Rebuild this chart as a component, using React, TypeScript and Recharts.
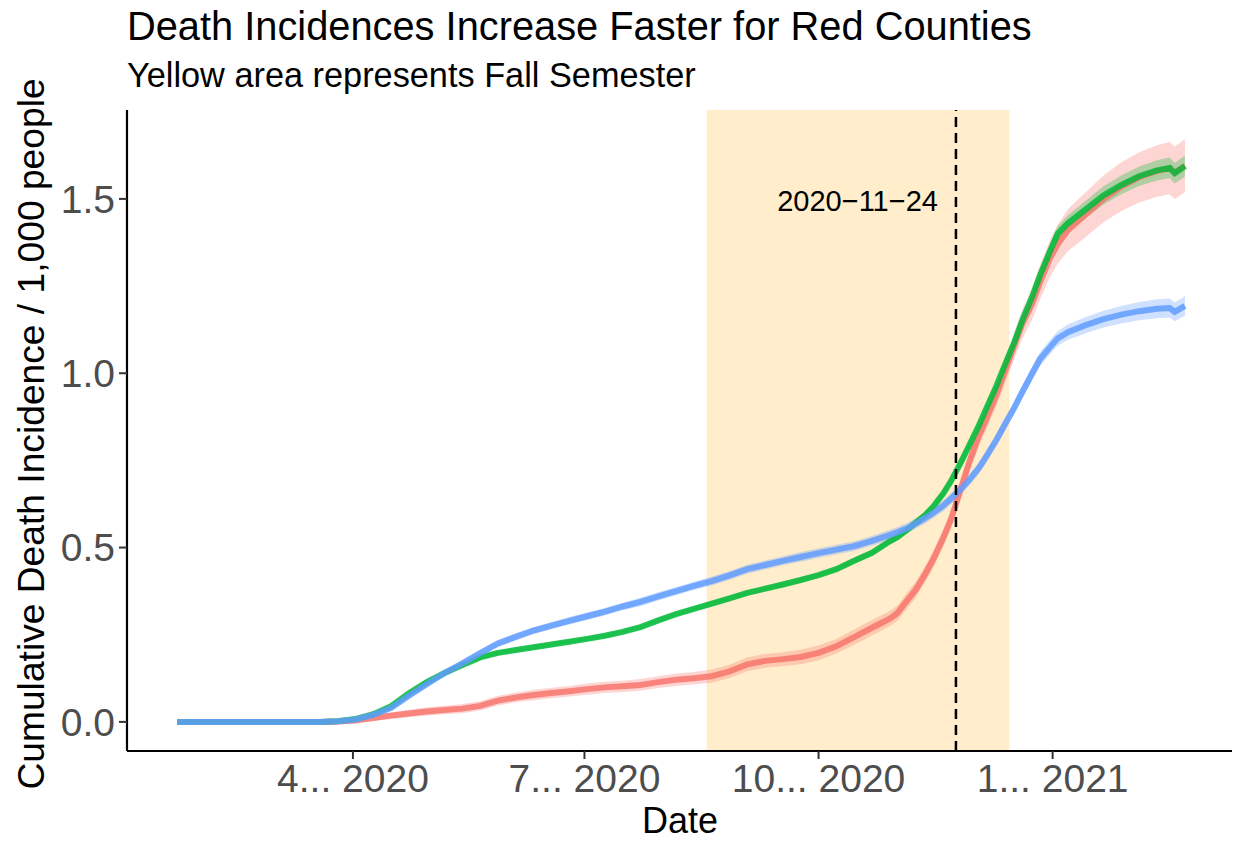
import React from 'react';
import { ComposedChart, Line, Area, XAxis, YAxis, ReferenceArea, ReferenceLine } from 'recharts';

// days since 2020-01-22
const days = [
  1, 8, 15, 22, 29, 36, 43, 50, 57, 64,
  71, 78, 85, 92, 99, 106, 113, 120, 127, 134,
  141, 148, 155, 162, 169, 176, 183, 190, 197, 204,
  211, 218, 225, 232, 239, 246, 253, 260, 267, 274,
  281, 284, 288, 291, 295, 298, 302, 305, 309, 312,
  316, 319, 323, 326, 330, 333, 337, 340, 344, 347,
  351, 358, 365, 372, 379, 386, 391, 393, 397,
];

const red = [
  0, 0, 0, 0, 0, 0, 0, 0, 0, 0.001,
  0.004, 0.011, 0.018, 0.024, 0.030, 0.034, 0.038, 0.046, 0.061, 0.070,
  0.077, 0.083, 0.088, 0.094, 0.099, 0.102, 0.106, 0.114, 0.121, 0.125,
  0.131, 0.145, 0.165, 0.175, 0.180, 0.186, 0.198, 0.217, 0.243, 0.270,
  0.296, 0.312, 0.350, 0.377, 0.425, 0.465, 0.527, 0.580, 0.670, 0.740,
  0.820, 0.870, 0.940, 1.000, 1.080, 1.140, 1.200, 1.260, 1.330, 1.370,
  1.410, 1.455, 1.500, 1.535, 1.562, 1.580, 1.588, 1.575, 1.595,
];

const green = [
  0, 0, 0, 0, 0, 0, 0, 0, 0, 0.002,
  0.008, 0.022, 0.045, 0.082, 0.114, 0.140, 0.163, 0.185, 0.198, 0.206,
  0.214, 0.222, 0.230, 0.238, 0.247, 0.258, 0.272, 0.291, 0.309, 0.324,
  0.339, 0.354, 0.370, 0.382, 0.394, 0.407, 0.421, 0.438, 0.462, 0.485,
  0.518, 0.530, 0.552, 0.570, 0.594, 0.617, 0.655, 0.690, 0.745, 0.790,
  0.850, 0.900, 0.965, 1.020, 1.090, 1.150, 1.220, 1.280, 1.350, 1.400,
  1.430, 1.470, 1.510, 1.540, 1.565, 1.582, 1.589, 1.574, 1.594,
];

const blue = [
  0, 0, 0, 0, 0, 0, 0, 0, 0, 0.002,
  0.007, 0.020, 0.040, 0.075, 0.108, 0.140, 0.168, 0.197, 0.225, 0.244,
  0.262, 0.276, 0.290, 0.303, 0.316, 0.331, 0.344, 0.360, 0.375, 0.390,
  0.404, 0.420, 0.438, 0.450, 0.462, 0.473, 0.484, 0.494, 0.504, 0.519,
  0.536, 0.544, 0.556, 0.568, 0.585, 0.599, 0.620, 0.640, 0.668, 0.692,
  0.728, 0.762, 0.810, 0.850, 0.902, 0.945, 1.000, 1.040, 1.075, 1.100,
  1.118, 1.138, 1.155, 1.168, 1.178, 1.185, 1.187, 1.176, 1.193,
];

// half-width of the confidence ribbons
const redSpread = [
  0, 0, 0, 0, 0, 0, 0, 0, 0, 0.002,
  0.006, 0.008, 0.010, 0.011, 0.012, 0.012, 0.013, 0.013, 0.014, 0.014,
  0.015, 0.015, 0.015, 0.016, 0.016, 0.016, 0.017, 0.017, 0.018, 0.018,
  0.019, 0.019, 0.020, 0.020, 0.020, 0.021, 0.021, 0.021, 0.022, 0.022,
  0.022, 0.022, 0.023, 0.023, 0.023, 0.024, 0.024, 0.025, 0.026, 0.027,
  0.028, 0.030, 0.032, 0.035, 0.038, 0.042, 0.045, 0.049, 0.053, 0.056,
  0.060, 0.064, 0.067, 0.070, 0.072, 0.074, 0.075, 0.075, 0.076,
];

const greenSpread = [
  0, 0, 0, 0, 0, 0, 0, 0, 0, 0.001,
  0.003, 0.004, 0.005, 0.005, 0.006, 0.006, 0.006, 0.006, 0.006, 0.006,
  0.006, 0.006, 0.006, 0.006, 0.006, 0.006, 0.006, 0.006, 0.006, 0.006,
  0.007, 0.007, 0.007, 0.007, 0.007, 0.007, 0.007, 0.007, 0.008, 0.008,
  0.008, 0.008, 0.008, 0.009, 0.009, 0.009, 0.010, 0.010, 0.011, 0.012,
  0.013, 0.014, 0.015, 0.016, 0.017, 0.018, 0.019, 0.020, 0.021, 0.022,
  0.023, 0.025, 0.026, 0.027, 0.028, 0.029, 0.030, 0.030, 0.030,
];

const blueSpread = [
  0, 0, 0, 0, 0, 0, 0, 0, 0, 0.001,
  0.003, 0.005, 0.006, 0.007, 0.008, 0.008, 0.009, 0.009, 0.010, 0.010,
  0.010, 0.010, 0.011, 0.011, 0.011, 0.011, 0.012, 0.012, 0.012, 0.012,
  0.013, 0.013, 0.013, 0.013, 0.013, 0.014, 0.014, 0.014, 0.014, 0.014,
  0.015, 0.015, 0.015, 0.015, 0.015, 0.015, 0.016, 0.016, 0.016, 0.016,
  0.017, 0.017, 0.017, 0.018, 0.018, 0.019, 0.019, 0.020, 0.020, 0.021,
  0.022, 0.023, 0.024, 0.025, 0.026, 0.027, 0.027, 0.027, 0.028,
];

const xTicks = [70, 161, 253, 345];
const xTickLabels = ['4... 2020', '7... 2020', '10... 2020', '1... 2021'];
const yTicks = [0, 0.5, 1.0, 1.5];

const semesterStart = 209;
const semesterEnd = 328;
const markerDay = 307;
const markerLabel = '2020\u221211\u221224';

const RED = '#F8766D';
const GREEN = '#00BA38';
const BLUE = '#619CFF';
const FONT = '"Liberation Sans", Arial, Helvetica, sans-serif';

const rows = days.map((d, i) => ({
  day: d,
  red: red[i],
  green: green[i],
  blue: blue[i],
  redBand: [red[i] - redSpread[i], red[i] + redSpread[i]],
  greenBand: [green[i] - greenSpread[i], green[i] + greenSpread[i]],
  blueBand: [blue[i] - blueSpread[i], blue[i] + blueSpread[i]],
}));

function MarkerLabel(props: any) {
  const vb = props.viewBox || {};
  return (
    <text x={vb.x - 18} y={vb.y + 101} textAnchor="end" fontSize={29} fontFamily={FONT} fill="#000">
      {markerLabel}
    </text>
  );
}

export default function App() {
  const tickStyle = { fill: '#4D4D4D', fontSize: 39, fontFamily: FONT };
  return (
    <div style={{ position: 'absolute', left: 0, top: 0, width: 1238, height: 841, background: '#fff', fontFamily: FONT }}>
      <ComposedChart
        width={1238}
        height={841}
        data={rows}
        margin={{ top: 110, right: 6, bottom: 0, left: 0 }}
      >
        <XAxis
          dataKey="day"
          type="number"
          domain={[-18.8, 415.5]}
          ticks={xTicks}
          interval={0}
          tickFormatter={(v: number) => xTickLabels[xTicks.indexOf(v)]}
          height={90}
          tick={tickStyle}
          tickSize={8}
          tickMargin={5}
          axisLine={{ stroke: '#000', strokeWidth: 2.2 }}
          tickLine={{ stroke: '#333', strokeWidth: 2 }}
          allowDataOverflow
        />
        <YAxis
          type="number"
          domain={[-0.0835, 1.755]}
          ticks={yTicks}
          interval={0}
          tickFormatter={(v: number) => v.toFixed(1)}
          width={127}
          tick={tickStyle}
          tickSize={8}
          tickMargin={4}
          axisLine={{ stroke: '#000', strokeWidth: 2.2 }}
          tickLine={{ stroke: '#333', strokeWidth: 2 }}
          allowDataOverflow
        />
        <ReferenceArea x1={semesterStart} x2={semesterEnd} fill="#FFA500" fillOpacity={0.2} stroke="none" ifOverflow="hidden" />
        <Area type="linear" dataKey="redBand" stroke="none" fill={RED} fillOpacity={0.3} isAnimationActive={false} />
        <Area type="linear" dataKey="greenBand" stroke="none" fill={GREEN} fillOpacity={0.3} isAnimationActive={false} />
        <Area type="linear" dataKey="blueBand" stroke="none" fill={BLUE} fillOpacity={0.3} isAnimationActive={false} />
        <Line type="linear" dataKey="red" stroke={RED} strokeOpacity={0.85} strokeWidth={6} dot={false} isAnimationActive={false} />
        <Line type="linear" dataKey="green" stroke={GREEN} strokeOpacity={0.85} strokeWidth={6} dot={false} isAnimationActive={false} />
        <Line type="linear" dataKey="blue" stroke={BLUE} strokeOpacity={0.85} strokeWidth={6} dot={false} isAnimationActive={false} />
        <ReferenceLine x={markerDay} stroke="#000" strokeWidth={2.5} strokeDasharray="10 6" label={<MarkerLabel />} />
      </ComposedChart>
      <svg width={1238} height={841} style={{ position: 'absolute', left: 0, top: 0, pointerEvents: 'none' }}>
        <text x={127} y={40} fontSize={39.8} fontFamily={FONT} fill="#000">
          Death Incidences Increase Faster for Red Counties
        </text>
        <text x={127} y={87} fontSize={34.3} fontFamily={FONT} fill="#000">
          Yellow area represents Fall Semester
        </text>
        <text x={680} y={833} fontSize={36} fontFamily={FONT} fill="#000" textAnchor="middle">
          Date
        </text>
        <text
          transform="translate(44, 434) rotate(-90)"
          fontSize={37.2}
          fontFamily={FONT}
          fill="#000"
          textAnchor="middle"
        >
          Cumulative Death Incidence / 1,000 people
        </text>
      </svg>
    </div>
  );
}
